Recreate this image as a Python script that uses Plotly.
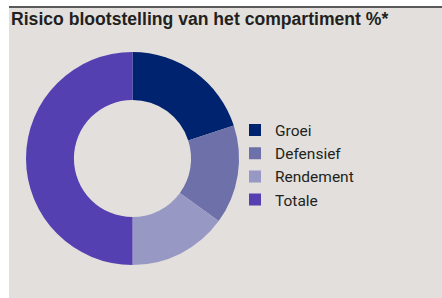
import plotly.graph_objects as go

W, H = 442, 298

categories = ["Groei", "Defensief", "Rendement", "Totale"]
values = [20, 15, 15, 50]
colors = ["#00236f", "#6e70a9", "#9898c5", "#5540b2"]
title_text = "Risico blootstelling van het compartiment %*"

def px(x):
    return x / W

def py(y):
    return 1 - y / H

fig = go.Figure()
fig.add_trace(go.Pie(
    labels=categories,
    values=values,
    sort=False,
    direction="clockwise",
    rotation=0,
    hole=0.55,
    marker=dict(colors=colors, line=dict(width=0)),
    textinfo="none",
    domain=dict(x=[px(26), px(239)], y=[py(265), py(52)]),
))

fig.update_layout(
    width=W, height=H,
    margin=dict(l=0, r=0, t=0, b=0),
    paper_bgcolor="white",
    plot_bgcolor="white",
    showlegend=True,
    legend=dict(
        x=px(235), y=py(165), xanchor="left", yanchor="middle",
        bgcolor="rgba(0,0,0,0)",
        font=dict(family="Roboto", size=15.5, color="#231f20"),
        itemclick=False,
    ),
    shapes=[
        dict(type="rect", xref="paper", yref="paper",
             x0=px(9), x1=1, y0=0, y1=py(7),
             fillcolor="#e2dfdc", line=dict(width=0), layer="below"),
        dict(type="line", xref="paper", yref="paper",
             x0=px(9), x1=1, y0=py(7), y1=py(7),
             line=dict(color="#58595b", width=2)),
    ],
    annotations=[
        dict(text=title_text, xref="paper", yref="paper",
             x=px(9), y=py(18.5), xanchor="left", yanchor="middle",
             showarrow=False,
             font=dict(family="Liberation Sans", size=17.6, color="#231f20", weight="bold")),
    ],
)

fig.write_html("out.html", config={"displayModeBar": False},
               post_script="document.body.style.margin='0';")
